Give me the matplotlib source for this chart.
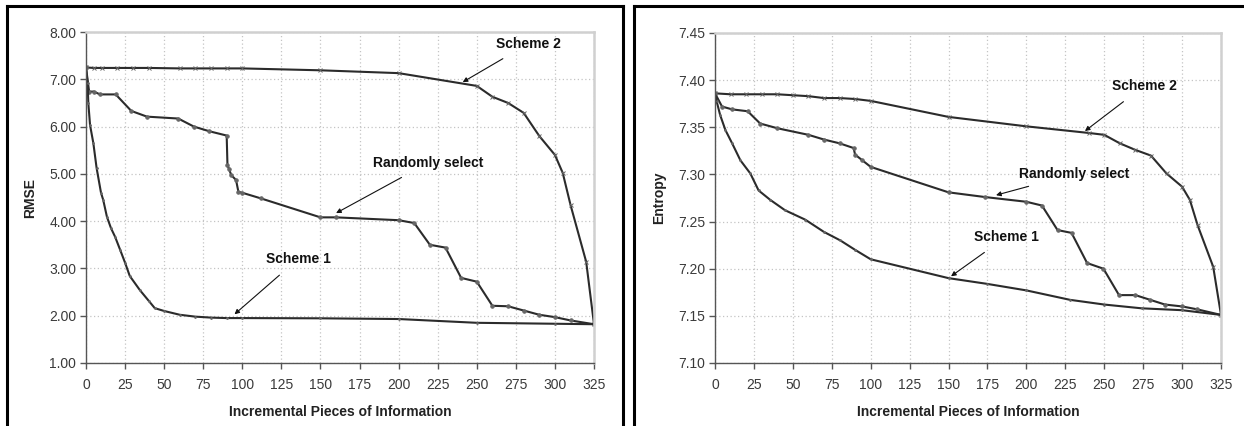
import matplotlib.pyplot as plt
from matplotlib.lines import Line2D
import numpy as np

plt.rcParams['font.family'] = ['Liberation Sans', 'DejaVu Sans']

# ---- data: RMSE panel ----
rmse_s1_x = [0, 1, 1.5, 2.6, 4.7, 6.8, 9.6, 11, 13.4, 16, 18.6, 22, 25, 28, 34.5, 40, 44,
             50, 60, 70, 80, 90, 100, 150, 200, 250, 300, 325]
rmse_s1_y = [7.25, 6.92, 6.49, 6.03, 5.65, 5.12, 4.60, 4.45, 4.09, 3.85, 3.67, 3.38, 3.12, 2.84,
             2.54, 2.32, 2.16, 2.10, 2.02, 1.98, 1.96, 1.95, 1.95, 1.945, 1.93, 1.85, 1.83, 1.82]

rmse_s2_x = [0, 5, 10, 20, 30, 40, 60, 70, 80, 90, 100, 150, 200, 250, 260, 270, 280, 290,
             300, 305, 310, 320, 325]
rmse_s2_y = [7.25, 7.24, 7.24, 7.24, 7.24, 7.24, 7.23, 7.23, 7.23, 7.23, 7.23, 7.19, 7.13, 6.86,
             6.63, 6.50, 6.29, 5.80, 5.40, 5.02, 4.34, 3.14, 1.82]

rmse_rand_x = [0, 2, 5, 9, 19, 29, 39, 59, 69, 79, 90, 90.5, 91.5, 93, 96, 97.5, 100, 112,
               150, 160, 200, 210, 220, 230, 240, 250, 260, 270, 280, 290, 300, 310, 325]
rmse_rand_y = [7.25, 6.74, 6.74, 6.68, 6.68, 6.33, 6.21, 6.17, 6.00, 5.90, 5.81, 5.19, 5.10,
               4.97, 4.87, 4.62, 4.60, 4.48, 4.08, 4.08, 4.02, 3.96, 3.50, 3.44, 2.80, 2.72,
               2.21, 2.20, 2.11, 2.02, 1.97, 1.90, 1.82]

# ---- data: Entropy panel ----
ent_s1_x = [0, 1, 3.3, 6.7, 11, 16.3, 22.7, 28, 35.5, 45, 58, 70, 80.5, 90, 100, 150, 174.5,
            200, 228, 250, 274, 300, 325]
ent_s1_y = [7.386, 7.378, 7.363, 7.347, 7.333, 7.315, 7.301, 7.283, 7.273, 7.262, 7.252, 7.239,
            7.230, 7.220, 7.210, 7.190, 7.184, 7.177, 7.167, 7.162, 7.158, 7.156, 7.151]

ent_s2_x = [0, 10, 20, 30, 40, 50, 60, 70, 80, 90, 100, 150, 200, 240, 250, 260, 270, 280,
            290, 300, 305, 310, 320, 325]
ent_s2_y = [7.386, 7.385, 7.385, 7.385, 7.385, 7.384, 7.383, 7.381, 7.381, 7.380, 7.378, 7.361,
            7.351, 7.344, 7.342, 7.333, 7.326, 7.320, 7.301, 7.287, 7.273, 7.246, 7.202, 7.151]

ent_rand_x = [0, 4.5, 11, 21, 29, 40, 60, 70, 80, 89, 90, 94.6, 100, 150, 173.5, 200, 210, 220,
              229, 239, 249.5, 259.5, 270, 279.5, 289, 300, 309.5, 325]
ent_rand_y = [7.386, 7.372, 7.369, 7.367, 7.354, 7.349, 7.342, 7.337, 7.333, 7.328, 7.321, 7.315,
              7.308, 7.281, 7.276, 7.271, 7.267, 7.241, 7.238, 7.206, 7.200, 7.172, 7.172, 7.167,
              7.162, 7.160, 7.157, 7.151]

x_ticks = np.arange(0, 326, 25)
rmse_ticks = np.arange(1, 8.01, 1)
ent_ticks = [7.10, 7.15, 7.20, 7.25, 7.30, 7.35, 7.40, 7.45]

W, H = 1244, 426
fig = plt.figure(figsize=(W / 100, H / 100), dpi=100)

line_col = '#2b2b2b'
txt_col = '#3a3a3a'


def px_axes(x0, x1, ytop, ybot):
    return fig.add_axes([x0 / W, 1 - ybot / H, (x1 - x0) / W, (ybot - ytop) / H])


def style(ax, yticks, fmt, ylabel):
    ax.set_xlim(0, 325)
    ax.set_xticks(x_ticks)
    ax.set_yticks(yticks)
    ax.set_yticklabels([fmt.format(v) for v in yticks])
    ax.set_ylim(yticks[0], yticks[-1])
    ax.grid(True, linestyle=(0, (1, 2)), color='#c4c4c4', linewidth=0.9)
    ax.set_axisbelow(True)
    for s in ['left', 'bottom']:
        ax.spines[s].set_color('#555555')
        ax.spines[s].set_linewidth(1.0)
    for s in ['top', 'right']:
        ax.spines[s].set_color('#d0d0d0')
        ax.spines[s].set_linewidth(1.8)
    ax.tick_params(direction='out', length=4, width=1, color='#555555',
                   labelsize=10, labelcolor=txt_col, pad=3)
    ax.tick_params(axis='x', pad=7)
    ax.set_xlabel('Incremental Pieces of Information', fontsize=10, fontweight='bold',
                  color='#222222', labelpad=9)
    ax.set_ylabel(ylabel, fontsize=10, fontweight='bold', color='#222222', labelpad=9)


def draw(ax, x, y, marker):
    ax.plot(x, y, color=line_col, linewidth=1.5, marker=marker, markersize=2.5,
            markeredgewidth=0.7, markerfacecolor='#666666', markeredgecolor='#666666')


def note(ax, text, xy, xytext):
    ax.annotate(text, xy=xy, xytext=xytext, textcoords='figure pixels',
                fontsize=10, fontweight='bold', ha='center', va='center', color='#111111',
                arrowprops=dict(arrowstyle='-|>', color='#111111', lw=0.8,
                                mutation_scale=7, shrinkA=7, shrinkB=0))


# left: RMSE
ax1 = px_axes(86, 594, 32, 363)
draw(ax1, rmse_s2_x, rmse_s2_y, 'x')
draw(ax1, rmse_rand_x, rmse_rand_y, 'o')
draw(ax1, rmse_s1_x, rmse_s1_y, '.')
style(ax1, rmse_ticks, '{:.2f}', 'RMSE')
note(ax1, 'Scheme 2', (241, 6.94), (528, H - 44))
note(ax1, 'Randomly select', (160, 4.17), (428, H - 163))
note(ax1, 'Scheme 1', (95, 2.03), (298, H - 259))

# right: Entropy
ax2 = px_axes(715, 1221, 33, 363)
draw(ax2, ent_s2_x, ent_s2_y, 'x')
draw(ax2, ent_rand_x, ent_rand_y, 'o')
draw(ax2, ent_s1_x, ent_s1_y, '.')
style(ax2, ent_ticks, '{:.2f}', 'Entropy')
note(ax2, 'Scheme 2', (237.6, 7.346), (1144, H - 86))
note(ax2, 'Randomly select', (180.5, 7.278), (1074, H - 174))
note(ax2, 'Scheme 1', (151.6, 7.192), (1006, H - 237))

# panel frames
def fline(xs, ys):
    fig.add_artist(Line2D([x / W for x in xs], [1 - y / H for y in ys],
                          color='black', linewidth=2.2, solid_capstyle='projecting'))


fline([7, 7], [H + 5, 6])
fline([7, 623], [6, 6])
fline([623, 623], [6, H + 5])
fline([634, 634], [H + 5, 6])
fline([634, W + 5], [6, 6])

fig.savefig('out.png', dpi=100)
